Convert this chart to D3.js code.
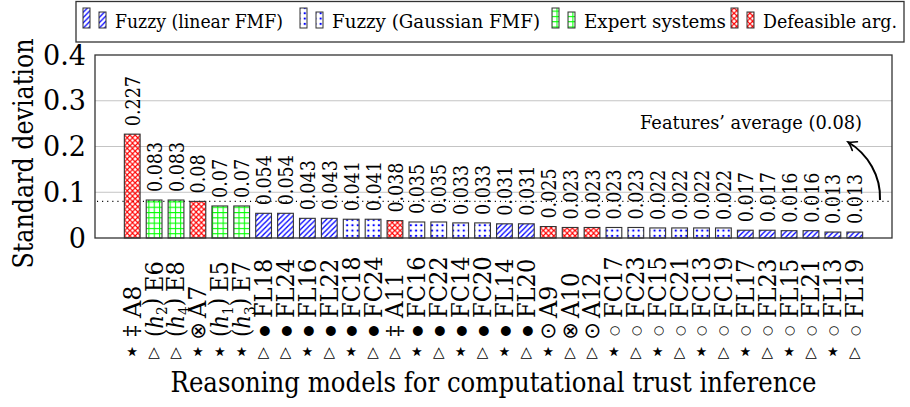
<!DOCTYPE html>
<html><head><meta charset="utf-8">
<script src="https://cdn.jsdelivr.net/npm/d3@7"></script>
<style>body{margin:0;background:#fff}</style>
</head><body>
<svg id="c" width="910" height="407" xmlns="http://www.w3.org/2000/svg"></svg>
<script>
// ---------- data ----------
const models = ["A8","E6","E8","A7","E5","E7","FL18","FL24","FL16","FL22","FC18","FC24","A11","FC16","FC22","FC14","FC20","FL14","FL20","A9","A10","A12","FC17","FC23","FC15","FC21","FC13","FC19","FL17","FL23","FL15","FL21","FL13","FL19"];
const stdDev = [0.227,0.083,0.083,0.08,0.07,0.07,0.054,0.054,0.043,0.043,0.041,0.041,0.038,0.035,0.035,0.033,0.033,0.031,0.031,0.025,0.023,0.023,0.023,0.023,0.022,0.022,0.022,0.022,0.017,0.017,0.016,0.016,0.013,0.013];
const family = ["def","exp","exp","def","exp","exp","lin","lin","lin","lin","gau","gau","def","gau","gau","gau","gau","lin","lin","def","def","def","gau","gau","gau","gau","gau","gau","lin","lin","lin","lin","lin","lin"];
const markRow1 = ["⋆","△","△","⋆","⋆","⋆","△","△","⋆","△","⋆","△","△","⋆","△","⋆","△","⋆","△","⋆","△","△","⋆","△","⋆","△","⋆","△","⋆","△","⋆","△","⋆","△"];
const markRow2 = ["‡","h2","h4","⊗","h1","h3","●","●","●","●","●","●","‡","●","●","●","●","●","●","⊙","⊗","⊙","○","○","○","○","○","○","○","○","○","○","○","○"];
const legendKeys = ["lin","gau","exp","def"];
const legendLabels = ["Fuzzy (linear FMF)","Fuzzy (Gaussian FMF)","Expert systems","Defeasible arg."];
const yTicks = [0,0.1,0.2,0.3,0.4];
const average = 0.08;
const averageLabel = "Features’ average (0.08)";
const xTitle = "Reasoning models for computational trust inference";
const yTitle = "Standard deviation";

// ---------- layout ----------
const SERIF = "'DejaVu Serif',serif";
const SYM = "'DejaVu Sans',sans-serif";
const L = 95, R = 892, T = 55, B = 238;
const svg = d3.select("#c");
const defs = svg.append("defs");
const tile = 5.3;

// patterns
const pLin = defs.append("pattern").attr("id","p-lin").attr("patternUnits","userSpaceOnUse").attr("width",tile).attr("height",tile);
pLin.append("path").attr("d",`M0,${tile} L${tile},0 M-1,1 L1,-1 M${tile-1},${tile+1} L${tile+1},${tile-1}`).attr("stroke","#0000ff").attr("stroke-width",1.3);
const pGau = defs.append("pattern").attr("id","p-gau").attr("patternUnits","userSpaceOnUse").attr("width",tile).attr("height",tile);
pGau.append("circle").attr("cx",tile/2).attr("cy",tile/2).attr("r",1.2).attr("fill","#0000ff");
const pExp = defs.append("pattern").attr("id","p-exp").attr("patternUnits","userSpaceOnUse").attr("width",tile).attr("height",tile);
pExp.append("path").attr("d",`M0.5,0 L0.5,${tile} M0,0.5 L${tile},0.5`).attr("stroke","#00ff00").attr("stroke-width",1.1);
const pDef = defs.append("pattern").attr("id","p-def").attr("patternUnits","userSpaceOnUse").attr("width",tile).attr("height",tile);
pDef.append("path").attr("d",`M0,0 L${tile},${tile} M0,${tile} L${tile},0`).attr("stroke","#ff0000").attr("stroke-width",1.1);
const fillOf = k => `url(#p-${k})`;

// arrow marker
defs.append("marker").attr("id","arr").attr("viewBox","-10 -6 12 12").attr("refX",0).attr("refY",0)
  .attr("markerWidth",12).attr("markerHeight",12).attr("markerUnits","userSpaceOnUse").attr("orient","auto")
  .append("path").attr("d","M-8,-5 Q-3,-1 0,0 Q-3,1 -8,5").attr("fill","none").attr("stroke","#000").attr("stroke-width",1.6).attr("stroke-linecap","round");

// scales
const x = d3.scaleBand().domain(models).range([L,R]).paddingInner(0.28).paddingOuter(1.34);
const y = d3.scaleLinear().domain([0,0.4]).range([B,T]);
const cx = d => x(d) + x.bandwidth()/2;

// grid
svg.append("g").selectAll("line").data(yTicks.filter(t=>t>0 && t<0.4)).join("line")
  .attr("x1",L).attr("x2",R).attr("y1",d=>y(d)).attr("y2",d=>y(d))
  .attr("stroke","#c4c4c4").attr("stroke-width",1);

// average dotted line
svg.append("line").attr("x1",L+2).attr("x2",R).attr("y1",y(average)).attr("y2",y(average))
  .attr("stroke","#000").attr("stroke-width",1.1).attr("stroke-dasharray","1.1 4");

// bars
svg.append("g").selectAll("rect").data(models).join("rect")
  .attr("x",d=>x(d)).attr("width",x.bandwidth())
  .attr("y",(d,i)=>y(stdDev[i])).attr("height",(d,i)=>y(0)-y(stdDev[i]))
  .attr("fill",(d,i)=>fillOf(family[i])).attr("stroke","#333").attr("stroke-width",1.1);

// CM-like advance widths (em) used to size the rotated labels
const cmAdv = {A:.75,E:.681,F:.653,L:.625,C:.722,".":.278};
const cmw = s => [...s].reduce((a,c)=>a+(cmAdv[c] ?? 0.5),0);

// value labels
svg.append("g").selectAll("text").data(models).join("text")
  .attr("transform",(d,i)=>`translate(${cx(d)},${y(stdDev[i])-8}) rotate(-90)`)
  .attr("dy","0.36em").attr("font-family",SERIF).attr("font-size",21).attr("fill","#000")
  .attr("textLength",(d,i)=>cmw(String(stdDev[i]))*22).attr("lengthAdjust","spacingAndGlyphs")
  .text((d,i)=>String(stdDev[i]));

// frame
svg.append("rect").attr("x",L).attr("y",T).attr("width",R-L).attr("height",B-T)
  .attr("fill","none").attr("stroke","#333").attr("stroke-width",1.3);

// y axis tick labels
svg.append("g").selectAll("text").data(yTicks).join("text")
  .attr("x",86).attr("y",d=>y(d)).attr("dy","0.36em").attr("text-anchor","end")
  .attr("font-family",SERIF).attr("font-size",27).attr("fill","#000")
  .text(d=>String(d));

// x tick labels
const xg = svg.append("g");
models.forEach((d,i)=>{
  const m = markRow2[i];
  const isH = m.startsWith("h");
  // name
  xg.append("text").attr("transform",`translate(${cx(d)},${isH?292:318}) rotate(-90)`)
    .attr("dy","0.36em").attr("font-family",SERIF).attr("font-size",23.5).attr("fill","#000")
    .attr("textLength",cmw(d)*26).attr("lengthAdjust","spacingAndGlyphs").text(d);
  // second-row mark
  if (isH) {
    const t = xg.append("text").attr("transform",`translate(${cx(d)},337) rotate(-90)`)
      .attr("dy","0.36em").attr("font-family",SERIF).attr("font-size",23.5).attr("fill","#000")
      .attr("textLength",39).attr("lengthAdjust","spacingAndGlyphs");
    t.append("tspan").text("(");
    t.append("tspan").attr("font-style","italic").text("h");
    t.append("tspan").attr("font-size",15).attr("dy","0.3em").text(m.slice(1));
    t.append("tspan").attr("dy","-0.3em").text(")");
  } else {
    const sz = m==="●"?13: m==="○"?12: (m==="⊗"||m==="⊙")?21: 22;
    const fam = m==="‡"?SERIF:SYM;
    xg.append("text").attr("transform",`translate(${cx(d)},331) rotate(-90)`)
      .attr("text-anchor","middle").attr("dy",m==="‡"?"0.3em":"0.33em")
      .attr("font-family",fam).attr("font-size",sz).attr("fill","#000").text(m);
  }
  // bottom-row mark (upright)
  const tri = markRow1[i]==="△";
  xg.append("text").attr("x",cx(d)).attr("y",tri?357:360).attr("text-anchor","middle")
    .attr("font-family",SYM).attr("font-size",tri?15:26).attr("fill","#000").text(markRow1[i]);
});

// axis titles
svg.append("text").attr("x",(L+R)/2).attr("y",392).attr("text-anchor","middle")
  .attr("font-family",SERIF).attr("font-size",27).attr("fill","#000")
  .attr("textLength",646).attr("lengthAdjust","spacingAndGlyphs").text(xTitle);
svg.append("text").attr("transform",`translate(33,${(T+B)/2+7}) rotate(-90)`).attr("text-anchor","middle")
  .attr("font-family",SERIF).attr("font-size",27).attr("fill","#000")
  .attr("textLength",230).attr("lengthAdjust","spacingAndGlyphs").text(yTitle);

// annotation
svg.append("text").attr("x",862).attr("y",129).attr("text-anchor","end")
  .attr("font-family",SERIF).attr("font-size",19).attr("fill","#000")
  .attr("textLength",222).attr("lengthAdjust","spacingAndGlyphs").text(averageLabel);
svg.append("path").attr("d","M880,200 C881,176 868,154 848,142").attr("fill","none")
  .attr("stroke","#000").attr("stroke-width",2).attr("marker-end","url(#arr)");

// legend
const lg = svg.append("g");
lg.append("rect").attr("x",76).attr("y",1.5).attr("width",828).attr("height",40.5)
  .attr("fill","#fff").attr("stroke","#333").attr("stroke-width",1.3);
const legX = [115,332,584,763];
const legW = [168,208,142,134];
legendKeys.forEach((k,i)=>{
  lg.append("rect").attr("x",legX[i]-32).attr("y",8).attr("width",7).attr("height",20)
    .attr("fill",fillOf(k)).attr("stroke","#333").attr("stroke-width",1);
  lg.append("rect").attr("x",legX[i]-16).attr("y",12).attr("width",7).attr("height",16)
    .attr("fill",fillOf(k)).attr("stroke","#333").attr("stroke-width",1);
  lg.append("text").attr("x",legX[i]).attr("y",28).attr("font-family",SERIF).attr("font-size",19)
    .attr("fill","#000").attr("textLength",legW[i]).attr("lengthAdjust","spacingAndGlyphs").text(legendLabels[i]);
});
</script>
</body></html>
